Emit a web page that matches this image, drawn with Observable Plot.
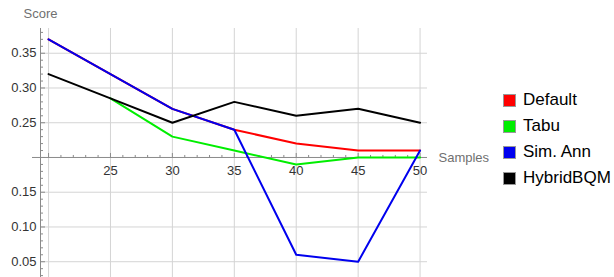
<!DOCTYPE html>
<html><head><meta charset="utf-8">
<script src="https://cdn.jsdelivr.net/npm/d3@7"></script>
<script src="https://cdn.jsdelivr.net/npm/@observablehq/plot@0.6"></script>
<style>
body{margin:0;background:#fff;font-family:"Liberation Sans",Arial,sans-serif;}
#wrap{position:relative;width:614px;height:277px;}
#legend{position:absolute;left:503px;top:87px;}
.item{display:flex;align-items:center;height:26px;font-size:17px;color:#000;}
.sw{width:13px;height:13px;border:1px solid #999;margin-right:7px;box-sizing:border-box;}
</style></head>
<body><div id="wrap"></div>
<script>
const samples = [20, 25, 30, 35, 40, 45, 50];
const defaultScores = [0.37, 0.32, 0.27, 0.24, 0.22, 0.21, 0.21];
const tabuScores = [null, 0.285, 0.23, 0.21, 0.19, 0.20, 0.20];
const simAnnScores = [0.37, 0.32, 0.27, 0.24, 0.06, 0.05, 0.21];
const hybridScores = [0.32, 0.285, 0.25, 0.28, 0.26, 0.27, 0.25];
const seriesNames = ["Default", "Tabu", "Sim. Ann", "HybridBQM"];
const seriesColors = ["#ff0000", "#00ee00", "#0000ee", "#000000"];
const xMajor = [20, 25, 30, 35, 40, 45, 50];
const xLabels = [25, 30, 35, 40, 45, 50];
const yMajor = [0.05, 0.10, 0.15, 0.20, 0.25, 0.30, 0.35];
const yLabels = [0.05, 0.10, 0.15, 0.25, 0.30, 0.35];
const xMinor = d3.range(20, 51, 1);
const yMinor = d3.range(3, 39, 1).map(d => d / 100);
const axisY = 0.2;
const xDomain = [19.35, 50.6];
const yDomain = [0.0273, 0.3856];

const allSeries = [defaultScores, tabuScores, simAnnScores, hybridScores];
const rows = [];
allSeries.forEach((vals, i) => samples.forEach((s, j) => { if (vals[j] != null) rows.push({series: seriesNames[i], x: s, y: vals[j]}); }));

const tickUp = len => ({draw(ctx){ctx.moveTo(0,0); ctx.lineTo(0,-len);}});
const tickRight = len => ({draw(ctx){ctx.moveTo(0,0); ctx.lineTo(len,0);}});

const plot = Plot.plot({
  width: 614, height: 277,
  marginLeft: 40, marginRight: 187, marginTop: 28, marginBottom: 0,
  x: {domain: xDomain, axis: null},
  y: {domain: yDomain, axis: null},
  style: {fontFamily: "'Liberation Sans', Arial, sans-serif", overflow: "visible", background: "white"},
  marks: [
    Plot.ruleX(xMajor, {stroke: "#d4d4d4", strokeWidth: 1}),
    Plot.ruleY(yMajor.filter(v => v !== axisY), {stroke: "#d4d4d4", strokeWidth: 1}),
    Plot.ruleY([axisY], {stroke: "#8a8a8a", strokeWidth: 1, insetLeft: -8}),
    Plot.ruleX([xDomain[0]], {stroke: "#8a8a8a", strokeWidth: 1}),
    Plot.dot(xMinor.filter(v => v % 5 !== 0), {x: d => d, y: () => axisY, symbol: tickUp(2.5), stroke: "#8a8a8a", fill: "none", strokeWidth: 1}),
    Plot.dot(xMajor, {x: d => d, y: () => axisY, symbol: tickUp(4.5), stroke: "#8a8a8a", fill: "none", strokeWidth: 1}),
    Plot.dot(yMinor.filter(v => Math.round(v * 100) % 5 !== 0), {y: d => d, frameAnchor: "left", symbol: tickRight(2.5), stroke: "#8a8a8a", fill: "none", strokeWidth: 1}),
    Plot.dot(yMajor, {y: d => d, frameAnchor: "left", symbol: tickRight(4.5), stroke: "#8a8a8a", fill: "none", strokeWidth: 1}),
    Plot.text(xLabels, {x: d => d, y: () => axisY, text: d => String(d), dy: 13, fontSize: 13, fill: "#333"}),
    Plot.text(yLabels, {y: d => d, frameAnchor: "left", text: d => d.toFixed(2), textAnchor: "end", dx: -4, fontSize: 13, fill: "#333"}),
    ...seriesNames.map((name, i) =>
      Plot.line(rows.filter(r => r.series === name), {x: "x", y: "y", stroke: seriesColors[i], strokeWidth: 2})
    ),
    Plot.text(["Samples"], {frameAnchor: "right", y: () => axisY, dx: 11, textAnchor: "start", fontSize: 13, fill: "#707070"}),
    Plot.text(["Score"], {frameAnchor: "top-left", lineAnchor: "middle", dx: -17, dy: -15, textAnchor: "start", fontSize: 13, fill: "#707070"})
  ]
});
const wrap = document.getElementById("wrap");
wrap.appendChild(plot);
const legend = document.createElement("div");
legend.id = "legend";
seriesNames.forEach((n, i) => {
  const it = document.createElement("div"); it.className = "item";
  const sw = document.createElement("span"); sw.className = "sw"; sw.style.background = seriesColors[i];
  const t = document.createElement("span"); t.textContent = n;
  it.appendChild(sw); it.appendChild(t); legend.appendChild(it);
});
wrap.appendChild(legend);
</script></body></html>
